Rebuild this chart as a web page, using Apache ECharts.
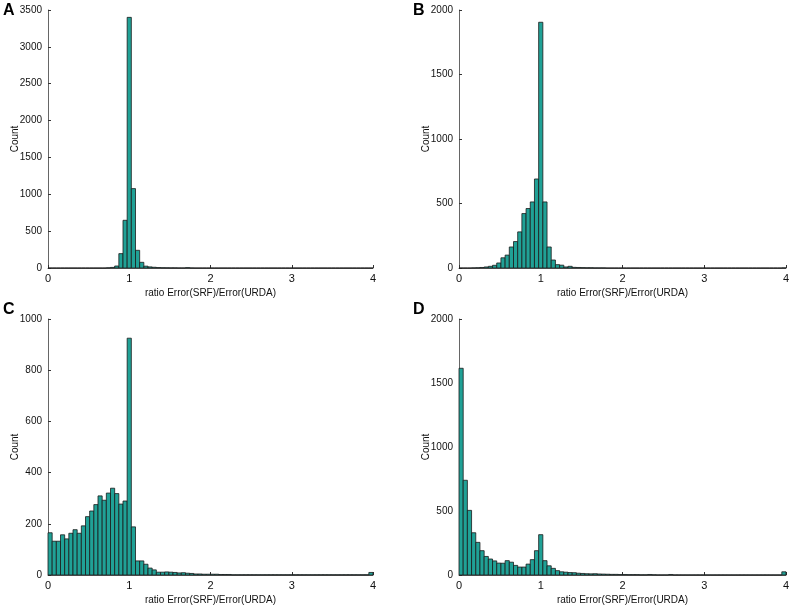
<!DOCTYPE html>
<html>
<head>
<meta charset="utf-8">
<script src="https://cdn.jsdelivr.net/npm/echarts@6/dist/echarts.min.js"></script>
<style>html,body{margin:0;padding:0;background:#fff;}#chart{width:794px;height:606px;}</style>
</head>
<body>
<div id="chart"></div>
<script>
// 78 bins spanning 0..4
const xTicks = [0, 1, 2, 3, 4];
const panelLetters = ['A', 'B', 'C', 'D'];
const xLabel = 'ratio Error(SRF)/Error(URDA)';
const yLabel = 'Count';
const yMaxes = [3500, 2000, 1000, 2000];
const yIntervals = [500, 500, 200, 500];

const countsA = [
  0,0,0,0,0,0,0,0,0,0, 0,0,0,0,3,8,27,195,647,3400,
  1077,240,77,25,15,10,6,4,3,2, 2,1,1,5,1,0,0,0,0,0,
  0,0,0,0,0,0,0,0,0,0, 0,0,0,0,0,0,0,0,0,0,
  0,0,0,0,0,0,0,0,0,0, 0,0,0,0,0,0,0,0
];
const countsB = [
  0,0,0,1,2,4,8,13,21,39, 79,100,163,205,280,422,461,512,690,1905,
  512,163,62,26,22,8,13,5,4,3, 2,2,1,1,1,0,0,0,0,0,
  0,0,0,0,0,0,0,0,0,0, 0,0,0,0,0,0,0,0,0,0,
  0,0,0,0,0,0,0,0,0,0, 0,0,0,0,0,0,0,1
];
const countsC = [
  165,132,132,157,141,163,177,163,192,228, 250,275,309,292,320,339,318,277,289,925,
  188,55,55,42,27,20,11,11,12,11, 10,8,9,7,6,4,4,3,3,3,
  3,2,2,2,1,1,1,1,1,1, 1,1,1,1,1,1,1,1,1,1,
  1,1,1,1,1,1,1,1,1,1, 1,1,1,1,1,1,1,10
];
const countsD = [
  1615,740,505,330,255,190,145,125,110,93, 92,112,100,75,62,62,85,120,190,315,
  112,72,52,34,25,22,19,18,14,12, 10,9,10,8,7,6,5,5,4,4,
  3,3,3,2,2,4,2,1,1,1, 4,1,1,1,1,1,1,1,1,1,
  1,1,1,1,1,1,1,1,1,1, 1,1,1,1,1,1,1,25
];
const allCounts = [countsA, countsB, countsC, countsD];

const xMax = 4;
const nBins = 78;
const binW = xMax / nBins;

const grids = [
  {left: 48, top: 10, width: 325, height: 258},
  {left: 459, top: 10, width: 327, height: 258},
  {left: 48, top: 319, width: 325, height: 258},
  {left: 459, top: 319, width: 327, height: 258}
];
const letterPos = [[3, 3], [413, 3], [3, 302], [413, 302]];

const FONT = '"Liberation Sans", Arial, Helvetica, sans-serif';
const axisColor = '#666';
const barFill = '#20a196';

function renderItem(params, api) {
  const p0 = api.coord([api.value(0), 0]);
  const p1 = api.coord([api.value(1), api.value(2)]);
  return {
    type: 'rect',
    shape: {x: p0[0], y: p1[1], width: p1[0] - p0[0], height: p0[1] - p1[1]},
    style: {fill: barFill, stroke: '#1b1b1b', lineWidth: 0.8}
  };
}

const xAxes = [], yAxes = [], series = [], graphics = [];
grids.forEach((g, k) => {
  xAxes.push({
    type: 'value', gridIndex: k, min: 0, max: xMax, interval: 1,
    name: xLabel, nameLocation: 'middle', nameGap: 20, nameMoveOverlap: false,
    nameTextStyle: {fontFamily: FONT, fontSize: 10, color: '#111'},
    axisLine: {show: true, onZero: false, lineStyle: {color: axisColor, width: 1}},
    axisTick: {show: true, inside: true, length: 3, lineStyle: {color: '#333'}},
    axisLabel: {fontFamily: FONT, fontSize: 11, color: '#111', margin: 5,
                formatter: v => String(v)},
    splitLine: {show: false}
  });
  yAxes.push({
    type: 'value', gridIndex: k, min: 0, max: yMaxes[k], interval: yIntervals[k],
    name: yLabel, nameLocation: 'middle', nameGap: 28, nameMoveOverlap: false,
    nameTextStyle: {fontFamily: FONT, fontSize: 10, color: '#111'},
    axisLine: {show: true, lineStyle: {color: axisColor, width: 1}},
    axisTick: {show: true, inside: true, length: 3, lineStyle: {color: '#333'}},
    axisLabel: {fontFamily: FONT, fontSize: 10, color: '#111', margin: 6,
                formatter: v => String(v)},
    splitLine: {show: false}
  });
  const data = allCounts[k].map((c, i) => [i * binW, (i + 1) * binW, c]);
  series.push({
    type: 'custom', xAxisIndex: k, yAxisIndex: k,
    renderItem: renderItem,
    encode: {x: [0, 1], y: 2},
    data: data,
    animation: false,
    silent: true
  });
  graphics.push({
    type: 'text', left: letterPos[k][0], top: letterPos[k][1],
    style: {text: panelLetters[k], font: 'bold 16px ' + FONT, fill: '#000'}
  });
});

const chart = echarts.init(document.getElementById('chart'), null, {renderer: 'canvas'});
chart.setOption({
  animation: false,
  backgroundColor: '#fff',
  grid: grids,
  xAxis: xAxes,
  yAxis: yAxes,
  series: series,
  graphic: graphics
});
</script>
</body>
</html>
